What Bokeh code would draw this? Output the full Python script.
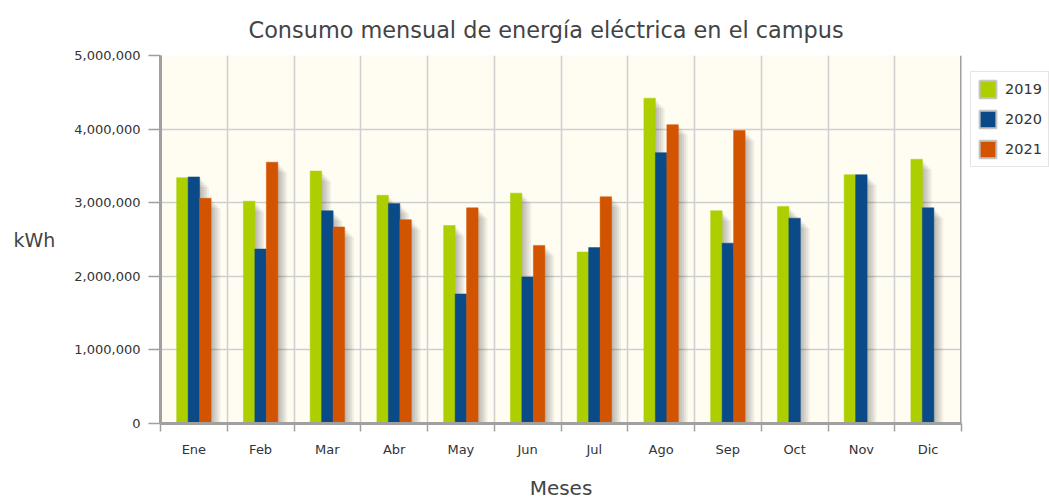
from bokeh.plotting import figure
from bokeh.layouts import row
from bokeh.models import (FixedTicker, NumeralTickFormatter, Span, Legend, LegendItem,
                          ColumnDataSource, Range1d)
from bokeh.embed import file_html
from bokeh.resources import INLINE

months = ["Ene", "Feb", "Mar", "Abr", "May", "Jun", "Jul", "Ago", "Sep", "Oct", "Nov", "Dic"]
years = ["2019", "2020", "2021"]
v2019 = [3340000, 3020000, 3430000, 3100000, 2690000, 3130000, 2330000, 4420000, 2890000, 2950000, 3380000, 3590000]
v2020 = [3350000, 2370000, 2890000, 2990000, 1760000, 1990000, 2390000, 3680000, 2450000, 2790000, 3380000, 2930000]
v2021 = [3060000, 3550000, 2670000, 2770000, 2930000, 2420000, 3080000, 4060000, 3980000, None, None, None]
y_ticks = [0, 1000000, 2000000, 3000000, 4000000, 5000000]

colors = ["#adcf00", "#0a4a87", "#d35400"]
series = [v2019, v2020, v2021]
offsets = [-0.172, 0.0, 0.172]
bar_w = 0.172

FONT = "DejaVu Sans"
n = len(months)

p = figure(width=968, height=502, x_range=Range1d(0, n), y_range=Range1d(0, 5000000),
           output_backend="svg", toolbar_location=None,
           min_border_left=160, min_border_right=7, min_border_top=55, min_border_bottom=75,
           background_fill_color="#fffcf2", border_fill_color="white", outline_line_color=None)

p.title.text = "Consumo mensual de energía eléctrica en el campus"
p.title.text_font = FONT
p.title.text_font_size = "22.4px"
p.title.text_font_style = "normal"
p.title.text_color = "#444444"
p.title.align = "left"
p.title.offset = 88
p.title.standoff = 25

# legend figure (to the right of the chart), no axes so its frame fills it
lf = figure(width=81, height=502, output_backend="svg", toolbar_location=None,
            x_axis_location=None, y_axis_location=None,
            min_border_left=0, min_border_right=0, min_border_top=0, min_border_bottom=0,
            outline_line_color=None, background_fill_color="white",
            border_fill_color="white")
lf.grid.visible = False

# shadows
for vals, off in zip(series, offsets):
    xs = [i + 0.5 + off for i, v in enumerate(vals) if v is not None]
    tops = [v for v in vals if v is not None]
    for k in range(1, 6):
        src = ColumnDataSource(dict(x=[x + 0.028 * k for x in xs],
                                    top=[t - 27000 * k for t in tops]))
        p.vbar(x="x", top="top", width=bar_w, source=src, fill_color="black",
               fill_alpha=0.055, line_color=None)

# bars
legend_items = []
for vals, off, c, yr in zip(series, offsets, colors, years):
    xs = [i + 0.5 + off for i, v in enumerate(vals) if v is not None]
    tops = [v for v in vals if v is not None]
    src = ColumnDataSource(dict(x=xs, top=tops))
    p.vbar(x="x", top="top", width=bar_w, source=src, fill_color=c, line_color=c, line_width=0.5)
    # hidden twin used only for the legend swatch (grey border)
    twin = lf.vbar(x="x", top="top", width=bar_w, source=src, fill_color=c,
                   line_color="#c4c4c4", line_width=2, visible=False)
    legend_items.append(LegendItem(label=yr, renderers=[twin]))

# right border of the chart area
p.add_layout(Span(location=n, dimension="height", line_color="#a0a0a0", line_width=3))

# grids
p.xgrid.ticker = FixedTicker(ticks=list(range(n + 1)))
p.xgrid.grid_line_color = "#cfcfcf"
p.xgrid.grid_line_width = 1.5
p.ygrid.ticker = FixedTicker(ticks=y_ticks)
p.ygrid.grid_line_color = "#cfcfcf"
p.ygrid.grid_line_width = 1.5

# x axis
xa = p.xaxis[0]
xa.ticker = FixedTicker(ticks=[i + 0.5 for i in range(n)], minor_ticks=list(range(n + 1)))
xa.major_label_overrides = {i + 0.5: m for i, m in enumerate(months)}
xa.major_tick_line_color = None
xa.major_tick_out = 8
xa.major_tick_in = 0
xa.minor_tick_out = 8
xa.minor_tick_in = 0
xa.minor_tick_line_color = "#a0a0a0"
xa.minor_tick_line_width = 1.5
xa.axis_line_color = "#a0a0a0"
xa.axis_line_width = 3
xa.major_label_standoff = 10
xa.major_label_text_font = FONT
xa.major_label_text_font_size = "13px"
xa.major_label_text_color = "#333333"
xa.axis_label = "Meses"
xa.axis_label_text_font = FONT
xa.axis_label_text_font_size = "20px"
xa.axis_label_text_font_style = "normal"
xa.axis_label_text_color = "#444444"
xa.axis_label_standoff = 16

# y axis
ya = p.yaxis[0]
ya.ticker = FixedTicker(ticks=y_ticks)
ya.formatter = NumeralTickFormatter(format="0,0")
ya.major_tick_out = 12
ya.major_tick_in = 0
ya.major_tick_line_color = "#a0a0a0"
ya.major_tick_line_width = 1.5
ya.minor_tick_line_color = None
ya.axis_line_color = "#a0a0a0"
ya.axis_line_width = 3
ya.major_label_standoff = 8
ya.major_label_text_font = FONT
ya.major_label_text_font_size = "13px"
ya.major_label_text_color = "#333333"
ya.axis_label = "kWh"
ya.axis_label_orientation = "horizontal"
ya.axis_label_text_font = FONT
ya.axis_label_text_font_size = "19px"
ya.axis_label_text_font_style = "normal"
ya.axis_label_text_color = "#444444"
ya.axis_label_standoff = 16

legend = Legend(items=legend_items, location=(2, 256), glyph_width=21, glyph_height=22,
                spacing=8, padding=6, margin=0, label_standoff=7,
                label_text_font=FONT, label_text_font_size="14.5px", label_text_color="#333333",
                border_line_color="#cccccc", border_line_width=1,
                background_fill_color="white", background_fill_alpha=1.0,
                inactive_fill_alpha=0.0)
lf.add_layout(legend, "center")

layout = row(p, lf)
open("out.html", "w").write(file_html(layout, INLINE))
